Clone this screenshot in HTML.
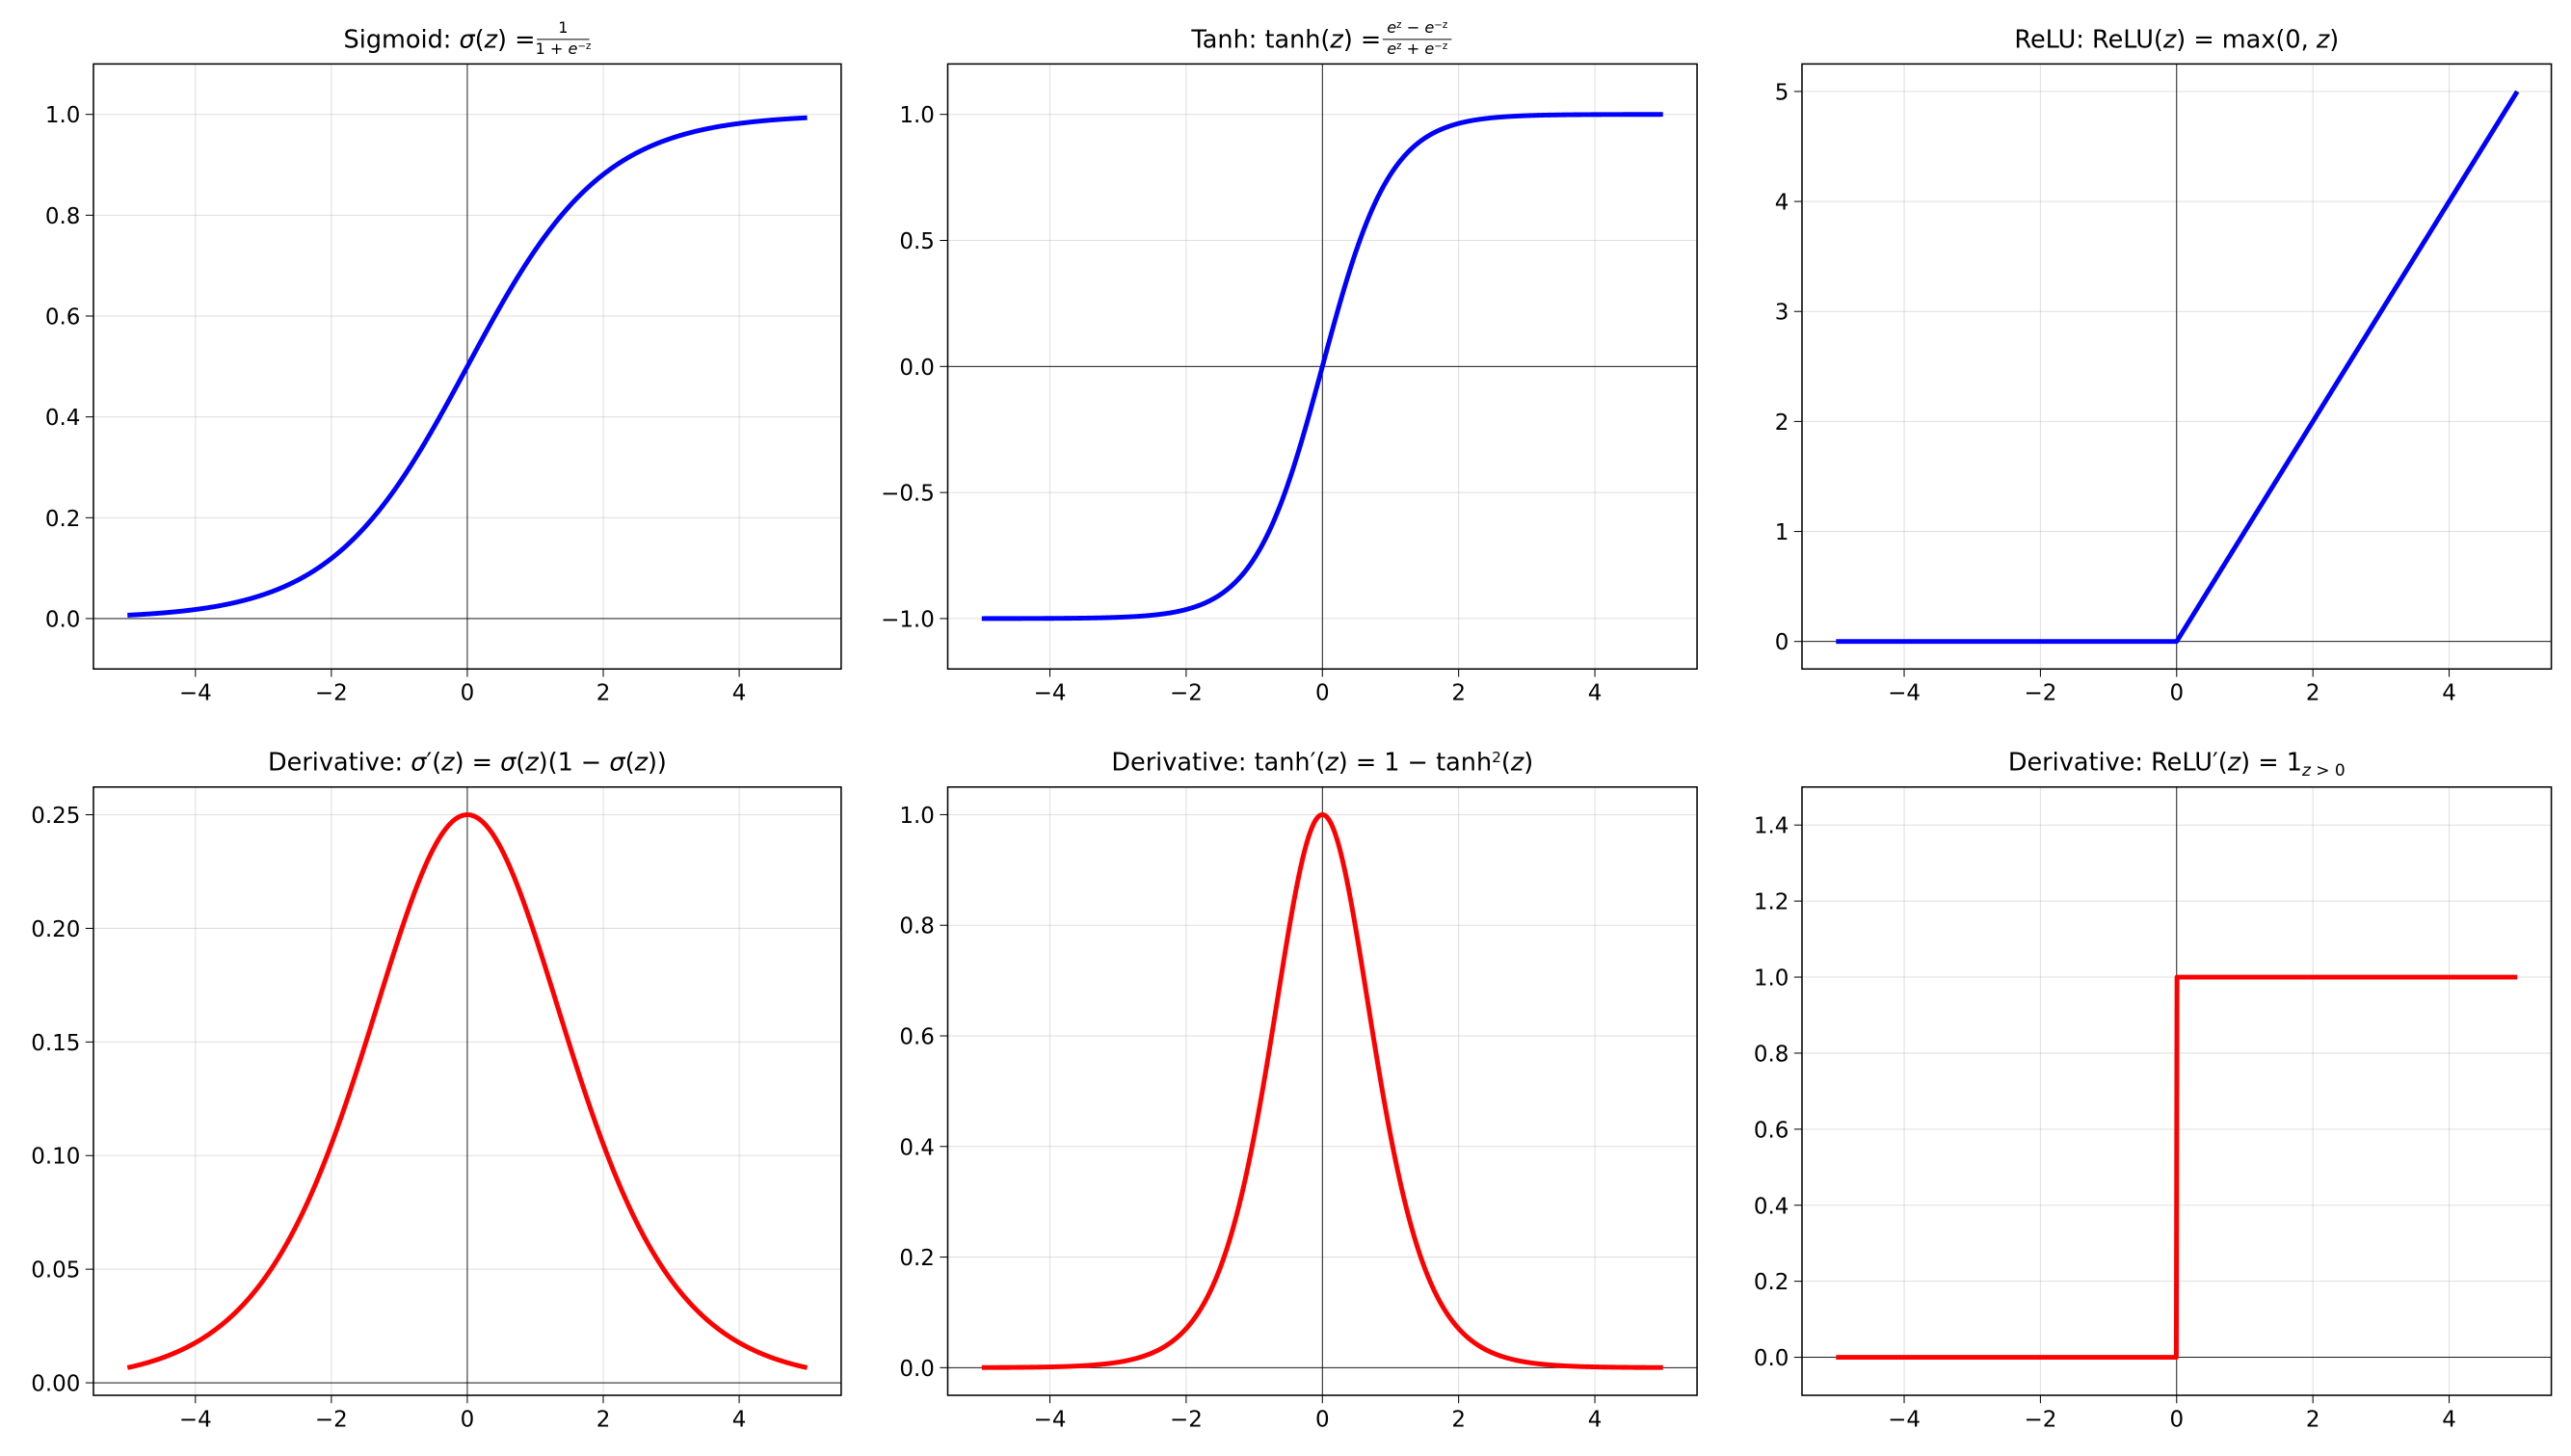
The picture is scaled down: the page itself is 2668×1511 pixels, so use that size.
<!DOCTYPE html>
<html><head><meta charset="utf-8">
<style>html,body{margin:0;padding:0;background:#fff}svg{display:block}</style>
</head><body>
<svg id="s" xmlns="http://www.w3.org/2000/svg" width="2668" height="1511" viewBox="0 0 1568 888" font-family="DejaVu Sans, Liberation Sans, sans-serif">
<rect width="1568" height="888" fill="#fff"/>
</svg>
<script>
const S=document.getElementById('s');
const NS='http://www.w3.org/2000/svg';
function el(t,a,txt){const e=document.createElementNS(NS,t);for(const k in a)e.setAttribute(k,a[k]);if(txt!==undefined)e.innerHTML=txt;S.appendChild(e);return e;}
const sig=z=>1/(1+Math.exp(-z));
const panels=[
 {x0:57,x1:513,y0:39,y1:408,ymin:-0.1,ymax:1.1,yt:[0,0.2,0.4,0.6,0.8,1.0],fmt:1,f:sig,c:'#0000ff',fw:34,
  title:'Sigmoid: <tspan font-style="italic">σ</tspan>(<tspan font-style="italic">z</tspan>) = ',frac:['1','1 + <tspan font-style="italic">e</tspan><tspan dy="-3" font-size="6">−z</tspan>']},
 {x0:578,x1:1035,y0:39,y1:408,ymin:-1.2,ymax:1.2,yt:[-1,-0.5,0,0.5,1],fmt:1,f:Math.tanh,c:'#0000ff',fw:44,
  title:'Tanh: tanh(<tspan font-style="italic">z</tspan>) = ',frac:['<tspan font-style="italic">e</tspan><tspan dy="-3" font-size="6">z</tspan><tspan dy="3"> − </tspan><tspan font-style="italic">e</tspan><tspan dy="-3" font-size="6">−z</tspan>','<tspan font-style="italic">e</tspan><tspan dy="-3" font-size="6">z</tspan><tspan dy="3"> + </tspan><tspan font-style="italic">e</tspan><tspan dy="-3" font-size="6">−z</tspan>']},
 {x0:1099,x1:1556,y0:39,y1:408,ymin:-0.25,ymax:5.25,yt:[0,1,2,3,4,5],fmt:0,f:z=>Math.max(0,z),c:'#0000ff',
  title:'ReLU: ReLU(<tspan font-style="italic">z</tspan>) = max(0, <tspan font-style="italic">z</tspan>)'},
 {x0:57,x1:513,y0:480,y1:851,ymin:-0.0055,ymax:0.2622,yt:[0,0.05,0.1,0.15,0.2,0.25],fmt:2,f:z=>sig(z)*(1-sig(z)),c:'#ff0000',
  title:'Derivative: <tspan font-style="italic">σ</tspan>′(<tspan font-style="italic">z</tspan>) = <tspan font-style="italic">σ</tspan>(<tspan font-style="italic">z</tspan>)(1 − <tspan font-style="italic">σ</tspan>(<tspan font-style="italic">z</tspan>))'},
 {x0:578,x1:1035,y0:480,y1:851,ymin:-0.05,ymax:1.05,yt:[0,0.2,0.4,0.6,0.8,1.0],fmt:1,f:z=>1-Math.tanh(z)**2,c:'#ff0000',
  title:'Derivative: tanh′(<tspan font-style="italic">z</tspan>) = 1 − tanh<tspan dy="-5" font-size="9">2</tspan><tspan dy="5">(</tspan><tspan font-style="italic">z</tspan>)'},
 {x0:1099,x1:1556,y0:480,y1:851,ymin:-0.1,ymax:1.5,yt:[0,0.2,0.4,0.6,0.8,1.0,1.2,1.4],fmt:1,f:z=>z>0?1:0,c:'#ff0000',
  title:'Derivative: ReLU′(<tspan font-style="italic">z</tspan>) = 1<tspan dy="3" font-size="10" font-style="italic">z</tspan><tspan font-size="10"> &gt; 0</tspan>'},
];
const fmtN=(v,d)=>(v<0?'−':'')+Math.abs(v).toFixed(d);
panels.forEach(p=>{
 const X=z=>p.x0+(z+5.5)/11*(p.x1-p.x0);
 const Y=v=>p.y1-(v-p.ymin)/(p.ymax-p.ymin)*(p.y1-p.y0);
 [-4,-2,0,2,4].forEach(t=>{el('line',{x1:X(t),x2:X(t),y1:p.y0,y2:p.y1,stroke:'#b0b0b0','stroke-opacity':0.4,'stroke-width':0.6});
   el('line',{x1:X(t),x2:X(t),y1:p.y1,y2:p.y1+4.8,stroke:'#000','stroke-width':0.6});
   el('text',{x:X(t),y:p.y1+19,'text-anchor':'middle','font-size':13.5},fmtN(t,0));});
 p.yt.forEach(t=>{el('line',{x1:p.x0,x2:p.x1,y1:Y(t),y2:Y(t),stroke:'#b0b0b0','stroke-opacity':0.4,'stroke-width':0.6});
   el('line',{x1:p.x0-4.8,x2:p.x0,y1:Y(t),y2:Y(t),stroke:'#000','stroke-width':0.6});
   el('text',{x:p.x0-8,y:Y(t)+5,'text-anchor':'end','font-size':13.5},fmtN(t,p.fmt));});
 el('line',{x1:X(0),x2:X(0),y1:p.y0,y2:p.y1,stroke:'#000','stroke-width':0.5});
 el('line',{x1:p.x0,x2:p.x1,y1:Y(0),y2:Y(0),stroke:'#000','stroke-width':0.5});
 let d='';const N=1000;
 for(let i=0;i<N;i++){const z=-5+10*i/(N-1);d+=(i?'L':'M')+X(z).toFixed(2)+' '+Y(p.f(z)).toFixed(2);}
 el('path',{d:d,fill:'none',stroke:p.c,'stroke-width':2.9,'stroke-linejoin':'round'});
 el('rect',{x:p.x0,y:p.y0,width:p.x1-p.x0,height:p.y1-p.y0,fill:'none',stroke:'#000','stroke-width':0.9});
 const cx=(p.x0+p.x1)/2, ty=p.y0-10;
 if(p.frac){
   const t=el('text',{x:0,y:ty,'font-size':15},p.title);
   const w=t.getComputedTextLength();
   const fw=p.fw;
   const total=w+fw;const sx=cx-total/2;
   t.setAttribute('x',sx);
   const fx=sx+w+fw/2;
   el('text',{x:fx,y:ty-9,'text-anchor':'middle','font-size':9.5},p.frac[0]);
   el('line',{x1:fx-fw/2+1,x2:fx+fw/2-1,y1:ty-5,y2:ty-5,stroke:'#000','stroke-width':0.6});
   el('text',{x:fx,y:ty+4,'text-anchor':'middle','font-size':9.5},p.frac[1]);
 } else {
   el('text',{x:cx,y:ty,'text-anchor':'middle','font-size':15},p.title);
 }
});
</script>
</body></html>
